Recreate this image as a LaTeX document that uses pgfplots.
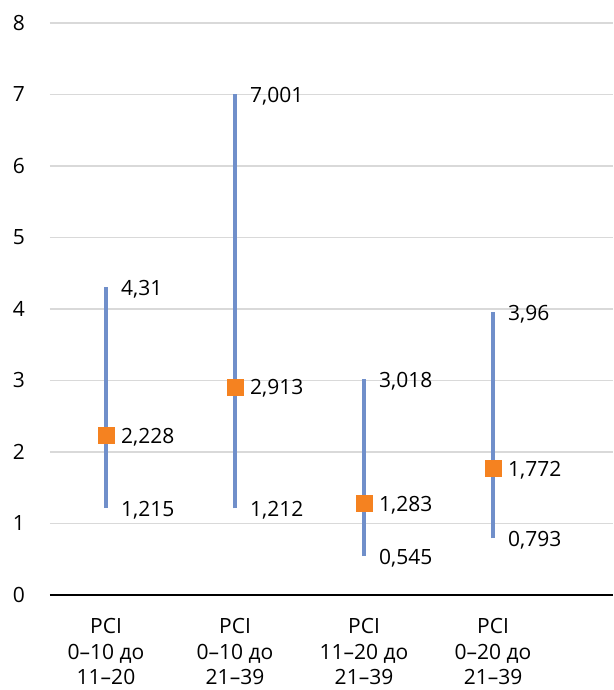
\documentclass[border=0pt]{standalone}
\usepackage{fontspec}
\setmainfont{Open Sans}
\usepackage{pgfplots}
\pgfplotsset{compat=1.18}
\definecolor{barblue}{RGB}{112,143,202}
\definecolor{ptorange}{RGB}{245,130,32}
\definecolor{gridgray}{RGB}{217,217,217}
\begin{document}
\begin{tikzpicture}
\begin{axis}[
 scale only axis, width=563pt, height=572pt,
 xmin=-0.434, xmax=3.93, ymin=0, ymax=8,
 axis line style={draw=none},
 ytick={0,1,...,8}, xtick={0,1,2,3},
 xticklabels={{PCI\\0–10 до\\11–20},{PCI\\0–10 до\\21–39},{PCI\\11–20 до\\21–39},{PCI\\0–20 до\\21–39}},
 major tick length=0pt,
 ymajorgrids, grid style={gridgray, line width=1.5pt},
 extra y ticks={0}, extra y tick labels={}, extra y tick style={grid style={black, line width=1.5pt}},
 /pgf/number format/assume math mode=true,
 /pgf/number format/.cd, fixed, precision=3, use comma, 1000 sep={},
 /pgfplots/.cd,
 tick label style={font=\fontsize{21}{25.5}\selectfont},
 yticklabel style={anchor=east, inner sep=0pt, xshift=-25pt},
 xticklabel style={anchor=north, inner sep=0pt, align=center, yshift=-23.5pt},
 nodes near coords style={font=\fontsize{21}{24}\selectfont, text=black, anchor=west, inner sep=0pt, xshift=15pt, yshift=-2pt},
 clip=false,
]
\addplot[barblue, line width=4pt, forget plot] coordinates {(0,1.215) (0,4.31)};
\addplot[barblue, line width=4pt, forget plot] coordinates {(1,1.212) (1,7.001)};
\addplot[barblue, line width=4pt, forget plot] coordinates {(2,0.545) (2,3.018)};
\addplot[barblue, line width=4pt, forget plot] coordinates {(3,0.793) (3,3.96)};
% high and low labels
\addplot[draw=none, mark=none, nodes near coords, point meta=y] coordinates {(0,4.31) (1,7.001) (2,3.018) (3,3.96)};
\addplot[draw=none, mark=none, nodes near coords, point meta=y] coordinates {(0,1.215) (1,1.212) (2,0.545) (3,0.793)};
% central estimates
\addplot[only marks, mark=square*, mark size=8pt, mark options={draw=ptorange, fill=ptorange}, nodes near coords, point meta=y] coordinates {(0,2.228) (1,2.913) (2,1.283) (3,1.772)};
\coordinate (bl) at (rel axis cs:0,0);
\coordinate (tr) at (rel axis cs:1,1);
\end{axis}
\pgfresetboundingbox
\path[use as bounding box] ([xshift=-50pt,yshift=-95pt]bl) rectangle ([yshift=23pt]tr);
\end{tikzpicture}
\end{document}
